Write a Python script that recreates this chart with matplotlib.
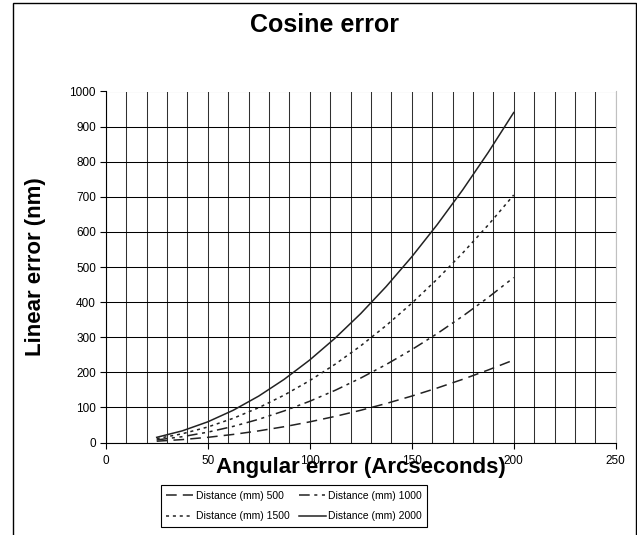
import matplotlib
matplotlib.use("Agg")
import matplotlib.pyplot as plt
from matplotlib.patches import Rectangle

plt.rcParams["font.family"] = ["Liberation Sans", "DejaVu Sans"]

# angular error in arcseconds
angle = [25, 37.5, 50, 62.5, 75, 87.5, 100, 112.5, 125, 137.5, 150, 162.5, 175, 187.5, 200]

# linear error in nm for each measuring distance
dist_500 = [3.7, 8.3, 14.7, 23.0, 33.1, 45.0, 58.8, 74.4, 91.8, 111.1, 132.2, 155.2, 180.0, 206.6, 235.0]
dist_1000 = [7.3, 16.5, 29.4, 45.9, 66.1, 90.0, 117.5, 148.7, 183.6, 222.2, 264.4, 310.3, 359.9, 413.2, 470.1]
dist_1500 = [11.0, 24.8, 44.1, 68.9, 99.2, 135.0, 176.3, 223.1, 275.4, 333.3, 396.6, 465.5, 539.9, 619.7, 705.1]
dist_2000 = [14.7, 33.1, 58.8, 91.8, 132.2, 180.0, 235.0, 297.5, 367.2, 444.4, 528.8, 620.7, 719.8, 826.3, 940.1]

labels = ["Distance (mm) 500", "Distance (mm) 1000", "Distance (mm) 1500", "Distance (mm) 2000"]

W, H = 637, 535
fig = plt.figure(figsize=(W / 100, H / 100), dpi=100)
ax = fig.add_axes([105.7 / W, 1 - 442.5 / H, 510 / W, 351 / H])

line_col = "#222222"
styles = [(0, (7, 4)), (0, (7, 3, 2, 3, 2, 3)), (0, (2, 2.5)), "-"]
series = [dist_500, dist_1000, dist_1500, dist_2000]
handles = []
for ys, ls, lab in zip(series, styles, labels):
    (h,) = ax.plot(angle, ys, color=line_col, lw=1.1, linestyle=ls, label=lab)
    handles.append(h)

ax.set_xlim(0, 250)
ax.set_ylim(0, 1000)
ax.set_xticks(range(0, 251, 50))
ax.set_xticks(range(0, 251, 10), minor=True)
ax.set_yticks(range(0, 1001, 100))
ax.grid(which="both", axis="x", color="#303030", lw=0.75)
ax.grid(which="major", axis="y", color="black", lw=0.75)
ax.set_axisbelow(True)
ax.tick_params(which="minor", length=0)
ax.tick_params(which="major", direction="out", length=4, width=0.8, labelsize=8.5, colors="black")
ax.tick_params(axis="x", pad=5)
ax.tick_params(axis="y", pad=3)
ax.spines["top"].set_visible(False)
ax.spines["right"].set_color("#c0c0c0")
for s in ("left", "bottom"):
    ax.spines[s].set_linewidth(0.8)

# chart border
fig.add_artist(Rectangle((13 / W, -0.05), (636 - 13) / W, 1.05 - 2.5 / H,
                         transform=fig.transFigure, fill=False, ec="black", lw=1, clip_on=False))

fig.text(325 / W, 1 - 25 / H, "Cosine error", ha="center", va="center", fontsize=18, weight="bold")
fig.text(360.7 / W, 1 - 467 / H, "Angular error (Arcseconds)", ha="center", va="center",
         fontsize=16, weight="bold")
fig.text(36 / W, 1 - 267 / H, "Linear error (nm)", ha="center", va="center", rotation=90,
         fontsize=16, weight="bold")

order = [0, 2, 1, 3]
leg = fig.legend([handles[i] for i in order], [labels[i] for i in order], ncol=2, loc="center",
                 bbox_to_anchor=(294 / W, 1 - 506 / H), fancybox=False, edgecolor="black",
                 framealpha=1, fontsize=7.5, handlelength=2.6, handletextpad=0.2,
                 columnspacing=0.9, borderpad=0.55, labelspacing=1.0)
leg.get_frame().set_linewidth(0.8)

fig.savefig("out.png", dpi=100)
